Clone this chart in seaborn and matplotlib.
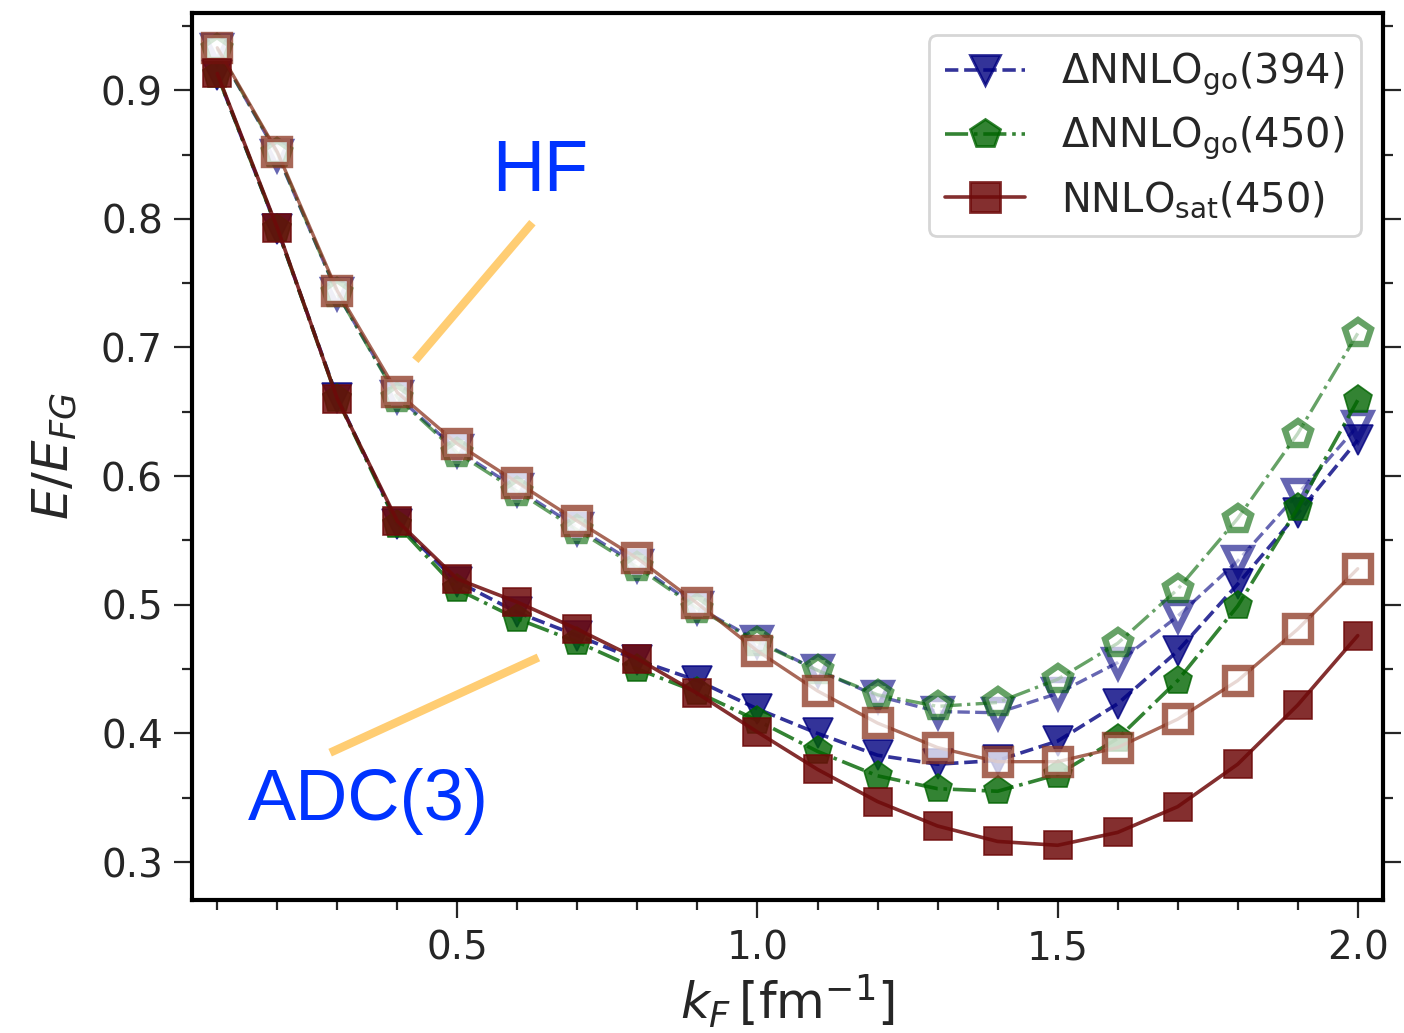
import numpy as np
import pandas as pd
import matplotlib
matplotlib.use("Agg")
import matplotlib.pyplot as plt
import seaborn as sns
from matplotlib.ticker import MultipleLocator
from matplotlib.lines import Line2D

# ---------------- data ----------------
kF = [0.1, 0.2, 0.3, 0.4, 0.5, 0.6, 0.7, 0.8, 0.9, 1.0,
      1.1, 1.2, 1.3, 1.4, 1.5, 1.6, 1.7, 1.8, 1.9, 2.0]

hf_394 = [0.932, 0.850, 0.742, 0.662, 0.620, 0.590, 0.560, 0.531, 0.498, 0.472,
          0.449, 0.429, 0.417, 0.416, 0.431, 0.455, 0.491, 0.534, 0.586, 0.639]
adc_394 = [0.912, 0.792, 0.661, 0.563, 0.518, 0.494, 0.476, 0.457, 0.441, 0.419,
           0.400, 0.383, 0.376, 0.379, 0.394, 0.423, 0.464, 0.516, 0.571, 0.628]

hf_450 = [0.932, 0.851, 0.742, 0.661, 0.618, 0.588, 0.558, 0.529, 0.497, 0.471,
          0.449, 0.430, 0.421, 0.424, 0.442, 0.470, 0.512, 0.567, 0.633, 0.711]
adc_450 = [0.912, 0.792, 0.660, 0.562, 0.512, 0.489, 0.471, 0.450, 0.432, 0.410,
           0.386, 0.367, 0.357, 0.355, 0.368, 0.396, 0.441, 0.499, 0.575, 0.659]

hf_sat = [0.933, 0.852, 0.744, 0.665, 0.625, 0.595, 0.565, 0.536, 0.501, 0.464,
          0.433, 0.408, 0.389, 0.378, 0.378, 0.389, 0.411, 0.441, 0.481, 0.528]
adc_sat = [0.913, 0.793, 0.660, 0.565, 0.520, 0.502, 0.481, 0.458, 0.431, 0.401,
           0.372, 0.347, 0.328, 0.316, 0.313, 0.323, 0.343, 0.376, 0.422, 0.476]

labels = [r'ΔNNLO$_{\mathrm{go}}$(394)', r'ΔNNLO$_{\mathrm{go}}$(450)',
          r'NNLO$_{\mathrm{sat}}$(450)']
x_ticks = [0.5, 1.0, 1.5, 2.0]
y_ticks = [0.3, 0.4, 0.5, 0.6, 0.7, 0.8, 0.9]

# ---------------- style ----------------
sns.set_style("ticks")
plt.rcParams['font.family'] = ['DejaVu Sans']
plt.rcParams['mathtext.fontset'] = 'dejavusans'

fig = plt.figure(figsize=(7.02, 5.165), dpi=200)
ax = fig.add_axes([0.1368, 0.1288, 0.985 - 0.1368, 0.9874 - 0.1288])

c_blue = '#000080'
c_green = '#006400'
c_red_adc = '#6e0a0a'
c_red_hf = '#8b3520'

series = [
    # (y, color, marker, ls, alpha, filled, ms, label)
    (hf_394, c_blue, 'v', '--', 0.6, False, 9.5, None),
    (adc_394, c_blue, 'v', '--', 0.8, True, 10.5, labels[0]),
    (hf_450, c_green, 'p', '-.', 0.6, False, 9.5, None),
    (adc_450, c_green, 'p', '-.', 0.8, True, 10.5, labels[1]),
    (hf_sat, c_red_hf, 's', '-', 0.75, False, 9.2, None),
    (adc_sat, c_red_adc, 's', '-', 0.85, True, 10.0, labels[2]),
]

for y, col, mk, ls, al, filled, ms, lab in series:
    df = pd.DataFrame({'kF': kF, 'E': y})
    if filled:
        sns.lineplot(data=df, x='kF', y='E', ax=ax, color=col, marker=mk,
                     linestyle=ls, linewidth=1.3, markersize=ms, alpha=al,
                     markerfacecolor=col, markeredgecolor=col,
                     markeredgewidth=0.6, errorbar=None, legend=False)
    else:
        sns.lineplot(data=df, x='kF', y='E', ax=ax, color=col, marker=mk,
                     linestyle=ls, linewidth=1.2, markersize=ms, alpha=al,
                     markerfacecolor='white', markeredgecolor=col,
                     markeredgewidth=2.3, errorbar=None, legend=False)

# annotations
ax.plot([0.43, 0.625], [0.690, 0.797], color='orange', alpha=0.55, lw=3,
        solid_capstyle='butt')
ax.plot([0.288, 0.635], [0.385, 0.459], color='orange', alpha=0.55, lw=3,
        solid_capstyle='butt')
ax.text(0.638, 0.836, 'HF', color='#0033ff', fontsize=26,
        family='Liberation Sans', ha='center', va='center')
ax.text(0.352, 0.347, 'ADC(3)', color='#0033ff', fontsize=26,
        family='Liberation Sans', ha='center', va='center')

ax.set_xlim(0.058, 2.042)
ax.set_ylim(0.2705, 0.960)
ax.xaxis.set_major_locator(matplotlib.ticker.FixedLocator(x_ticks))
ax.xaxis.set_minor_locator(MultipleLocator(0.1))
ax.yaxis.set_major_locator(matplotlib.ticker.FixedLocator(y_ticks))
ax.yaxis.set_minor_locator(MultipleLocator(0.05))
ax.set_xticklabels([f'{t:.1f}' for t in x_ticks])
ax.set_yticklabels([f'{t:.1f}' for t in y_ticks])

ax.tick_params(axis='both', which='major', direction='out', length=6.5,
               width=0.8, labelsize=14, right=True, top=False, pad=4)
ax.tick_params(axis='both', which='minor', direction='out', length=3.5,
               width=0.8, right=True, top=False)
for sp in ax.spines.values():
    sp.set_visible(True)
    sp.set_linewidth(1.5)
    sp.set_color('black')

ax.set_xlabel(r'$k_F\,[\mathrm{fm}^{-1}]$', fontsize=18, labelpad=2)
ax.set_ylabel(r'$E/E_{FG}$', fontsize=18, labelpad=8)

handles = [
    Line2D([], [], color=c_blue, marker='v', ls='--', lw=1.3, ms=11,
           alpha=0.8),
    Line2D([], [], color=c_green, marker='p', ls='-.', lw=1.3, ms=11,
           alpha=0.8),
    Line2D([], [], color=c_red_adc, marker='s', ls='-', lw=1.3, ms=10.5,
           alpha=0.85),
]
ax.legend(handles, labels, loc='upper right', fontsize=14.4, frameon=True,
          borderaxespad=0.55, handlelength=2.0, labelspacing=0.42,
          handletextpad=0.9)

fig.savefig('out.png', dpi=200)
